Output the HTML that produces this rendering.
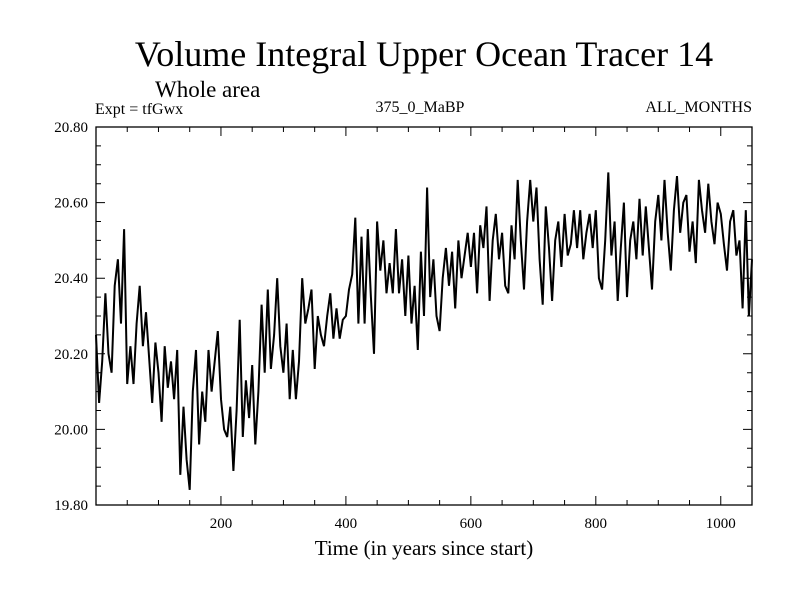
<!DOCTYPE html>
<html><head><meta charset="utf-8"><style>
body{margin:0;background:#fff;}
svg{display:block;font-family:"Liberation Serif",serif;}
</style></head><body>
<svg id="chart" width="800" height="600">
<text x="424" y="66" font-size="36" text-anchor="middle">Volume Integral Upper Ocean Tracer 14</text>
<text x="155" y="97" font-size="23">Whole area</text>
<text x="95" y="114" font-size="16">Expt = tfGwx</text>
<text x="420" y="112" font-size="16" text-anchor="middle">375_0_MaBP</text>
<text x="752" y="112" font-size="16" text-anchor="end">ALL_MONTHS</text>
<text x="424" y="555" font-size="21" text-anchor="middle">Time (in years since start)</text>
<g id="axes"></g>
<g id="series"></g>
</svg>
<script>
const yearStep=5;
const values=[
20.25,20.07,20.18,20.36,20.20,20.15,20.38,20.45,20.28,20.53,
20.12,20.22,20.12,20.28,20.38,20.22,20.31,20.19,20.07,20.23,
20.15,20.02,20.22,20.11,20.18,20.08,20.21,19.88,20.06,19.92,
19.84,20.10,20.21,19.96,20.10,20.02,20.21,20.10,20.18,20.26,
20.08,20.00,19.98,20.06,19.89,20.05,20.29,19.98,20.13,20.03,
20.17,19.96,20.10,20.33,20.15,20.37,20.16,20.25,20.40,20.22,
20.15,20.28,20.08,20.21,20.08,20.18,20.40,20.28,20.32,20.37,
20.16,20.30,20.25,20.22,20.30,20.36,20.24,20.32,20.24,20.29,
20.30,20.37,20.41,20.56,20.28,20.51,20.28,20.53,20.35,20.20,
20.55,20.42,20.50,20.36,20.44,20.36,20.53,20.36,20.45,20.30,
20.46,20.28,20.38,20.21,20.47,20.30,20.64,20.35,20.45,20.30,
20.26,20.40,20.48,20.38,20.47,20.32,20.50,20.40,20.46,20.52,
20.43,20.52,20.36,20.54,20.48,20.59,20.34,20.50,20.57,20.45,
20.52,20.38,20.36,20.54,20.45,20.66,20.50,20.37,20.55,20.66,
20.55,20.64,20.45,20.33,20.59,20.48,20.34,20.50,20.55,20.43,
20.57,20.46,20.49,20.58,20.48,20.58,20.45,20.52,20.57,20.48,
20.58,20.40,20.37,20.50,20.68,20.46,20.55,20.34,20.48,20.60,
20.35,20.50,20.55,20.45,20.61,20.46,20.59,20.48,20.37,20.55,
20.62,20.50,20.66,20.52,20.42,20.58,20.67,20.52,20.60,20.62,
20.47,20.55,20.44,20.66,20.58,20.52,20.65,20.55,20.49,20.60,
20.57,20.49,20.42,20.55,20.58,20.46,20.50,20.32,20.58,20.30,
20.45];
const years=values.map((v,i)=>i*yearStep);
const yTicks=[19.80,20.00,20.20,20.40,20.60,20.80];
const xTicks=[200,400,600,800,1000];
const NS="http://www.w3.org/2000/svg";
const L=96,R=752,T=127,B=505,X0=0,X1=1050,Y0=19.8,Y1=20.8;
function sx(v){return L+(v-X0)/(X1-X0)*(R-L);}
function sy(v){return B-(v-Y0)/(Y1-Y0)*(B-T);}
const axes=document.getElementById('axes');
function mk(tag,attrs,parent){const e=document.createElementNS(NS,tag);for(const k in attrs)e.setAttribute(k,attrs[k]);parent.appendChild(e);return e;}
const frame=mk('rect',{x:L,y:T,width:R-L,height:B-T,fill:'none',stroke:'#000','stroke-width':1.3},axes);


let d='';
for(let v=Y0;v<=Y1+1e-9;v+=0.05){const y=sy(v);const major=Math.abs(Math.round(v*5)-v*5)<1e-6;const len=major?9:5;d+=`M${L},${y}h${len}M${R},${y}h${-len}`;}
for(let v=50;v<X1;v+=50){const x=sx(v);const len=v%200===0?9:5;d+=`M${x},${B}v${-len}M${x},${T}v${len}`;}
const tk=mk('path',{d:d,stroke:'#000','stroke-width':1,fill:'none'},axes);


yTicks.forEach(v=>{const t=mk('text',{x:88,y:sy(v)+5,'font-size':15,'text-anchor':'end'},axes);t.textContent=v.toFixed(2);

});
xTicks.forEach(v=>{const t=mk('text',{x:sx(v),y:528,'font-size':15,'text-anchor':'middle'},axes);t.textContent=v;

});
const pts=years.map((yr,i)=>sx(yr).toFixed(1)+','+sy(values[i]).toFixed(1)).join(' ');
const line=mk('polyline',{points:pts,fill:'none',stroke:'#000','stroke-width':2,'stroke-linejoin':'miter'},document.getElementById('series'));


</script>
</body></html>
